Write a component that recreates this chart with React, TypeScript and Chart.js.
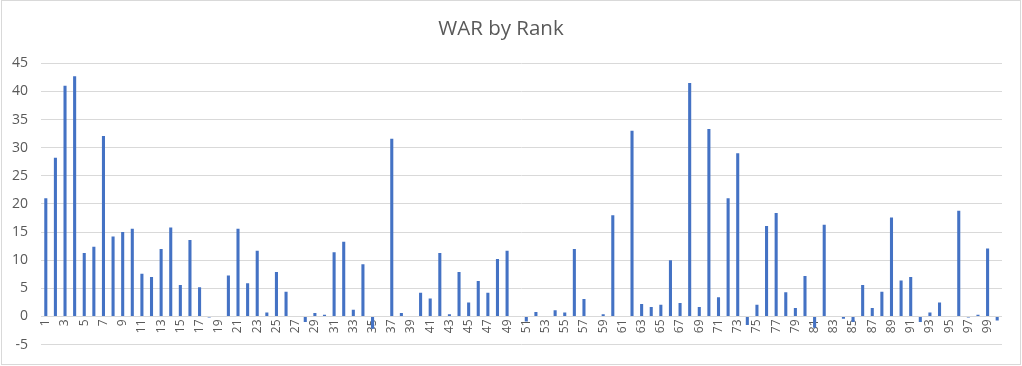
import React, { useEffect, useRef } from "react";
import { Chart, registerables } from "chart.js";

Chart.register(...registerables);

const ranks: string[] = Array.from({ length: 100 }, (_, i) => String(i + 1));

const war: number[] = [
  21.0, 28.2, 41.0, 42.7, 11.3, 12.4, 32.1, 14.2, 15.0, 15.6,
  7.6, 7.0, 12.0, 15.8, 5.6, 13.6, 5.2, -0.2, 0, 7.3,
  15.6, 5.9, 11.7, 0.7, 7.9, 4.4, 0, -1.0, 0.6, 0.3,
  11.4, 13.3, 1.2, 9.3, -2.2, 0, 31.6, 0.6, 0, 4.2,
  3.2, 11.3, 0.4, 7.9, 2.5, 6.3, 4.2, 10.2, 11.7, 0,
  -0.9, 0.8, 0, 1.1, 0.7, 12.0, 3.1, 0, 0.4, 18.0,
  0, 33.0, 2.2, 1.7, 2.1, 10.0, 2.4, 41.5, 1.7, 33.3,
  3.4, 21.0, 29.0, -1.5, 2.1, 16.1, 18.4, 4.3, 1.5, 7.2,
  -2.0, 16.3, 0, -0.4, -1.0, 5.6, 1.5, 4.4, 17.6, 6.4,
  7.0, -1.0, 0.7, 2.5, 0, 18.8, -0.2, 0.3, 12.1, -0.7,
];

const yTicks: number[] = [-5, 0, 5, 10, 15, 20, 25, 30, 35, 40, 45];

const titleText = "WAR by Rank";

export default function App() {
  const canvasRef = useRef<HTMLCanvasElement | null>(null);

  useEffect(() => {
    if (!canvasRef.current) return;
    const chart = new Chart(canvasRef.current, {
      type: "bar",
      data: {
        labels: ranks,
        datasets: [
          {
            label: "WAR",
            data: war,
            backgroundColor: "#4472C4",
            borderWidth: 0,
            barPercentage: 0.32,
            categoryPercentage: 1,
          },
        ],
      },
      options: {
        animation: false,
        responsive: false,
        maintainAspectRatio: false,
        layout: { padding: { left: 0, right: 20, top: 0, bottom: 15 } },
        plugins: {
          legend: { display: false },
          tooltip: { enabled: false },
          title: {
            display: true,
            text: titleText,
            color: "#595959",
            font: { family: "'Open Sans', sans-serif", size: 20.5, weight: "normal" },
            padding: { top: 17, bottom: 21.7 },
          },
        },
        scales: {
          x: {
            position: { y: 0 } as any,
            grid: { display: false, drawTicks: false },
            border: { display: false },
            ticks: {
              autoSkip: false,
              minRotation: 90,
              maxRotation: 90,
              padding: 3,
              color: "#595959",
              font: { family: "'Open Sans', sans-serif", size: 12 },
              callback: function (this: any, value: any, index: number) {
                return index % 2 === 0 ? ranks[index] : "";
              },
            },
          },
          y: {
            min: yTicks[0],
            max: yTicks[yTicks.length - 1],
            afterFit: (scale: any) => {
              scale.width = 41;
            },
            afterBuildTicks: (scale: any) => {
              scale.ticks = yTicks.map((v) => ({ value: v }));
            },
            grid: { color: "#d9d9d9", lineWidth: 1, drawTicks: false, tickLength: 0 },
            border: { display: false },
            ticks: {
              padding: 13,
              color: "#595959",
              font: { family: "'Open Sans', sans-serif", size: 14 },
            },
          },
        },
      },
    });
    return () => chart.destroy();
  }, []);

  return (
    <div style={{ position: "absolute", left: 0, top: 0, width: 1022, height: 366, background: "#fff" }}>
      <canvas ref={canvasRef} width={1022} height={366} style={{ position: "absolute", left: 0, top: 0 }} />
      <div
        style={{
          position: "absolute",
          left: 1,
          top: 0,
          width: 1018,
          height: 363,
          border: "1px solid #d9d9d9",
          pointerEvents: "none",
        }}
      />
    </div>
  );
}
